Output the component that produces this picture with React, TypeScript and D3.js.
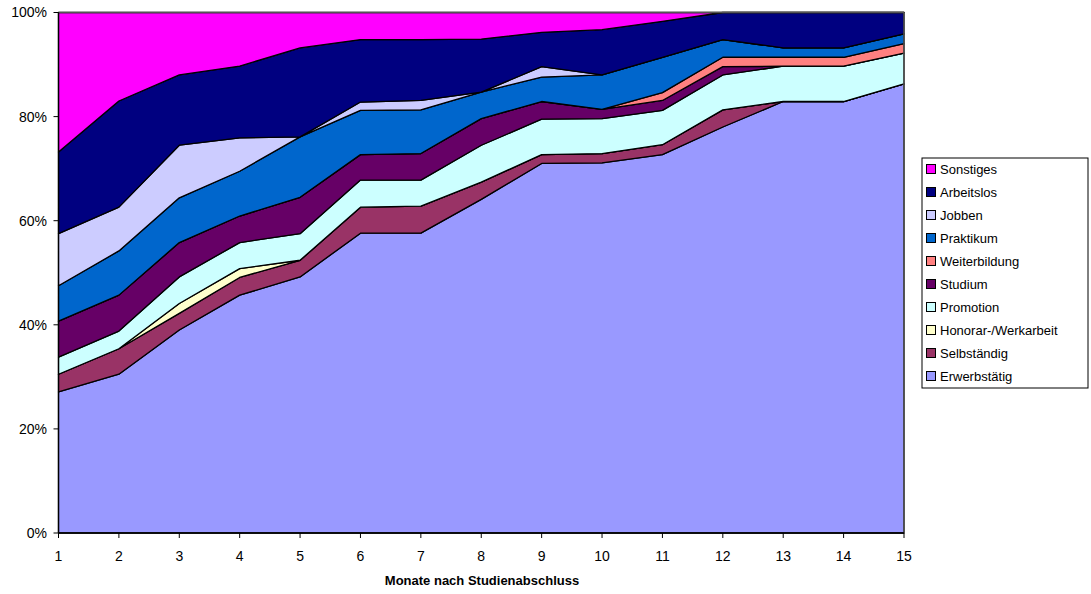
import React from "react";
import * as d3 from "d3";

const months = [1, 2, 3, 4, 5, 6, 7, 8, 9, 10, 11, 12, 13, 14, 15];
const seriesNames = [
  "Erwerbstätig",
  "Selbständig",
  "Honorar-/Werkarbeit",
  "Promotion",
  "Studium",
  "Weiterbildung",
  "Praktikum",
  "Jobben",
  "Arbeitslos",
  "Sonstiges",
];
const seriesColors = [
  "#9999ff",
  "#993366",
  "#ffffcc",
  "#ccffff",
  "#660066",
  "#ff8080",
  "#0066cc",
  "#ccccff",
  "#000080",
  "#ff00ff",
];
const erwerbstaetig = [27.1, 30.5, 39.0, 45.7, 49.2, 57.6, 57.6, 64.1, 71.0, 71.1, 72.7, 78.0, 82.9, 82.9, 86.3];
const selbstaendig = [3.4, 4.9, 3.2, 3.4, 3.2, 5.0, 5.2, 3.3, 1.7, 1.8, 1.9, 3.3, 0, 0, 0];
const honorar = [0, 0, 1.9, 1.7, 0, 0, 0, 0, 0, 0, 0, 0, 0, 0, 0];
const promotion = [3.3, 3.4, 5.1, 5.0, 5.1, 5.2, 5.0, 7.1, 6.8, 6.7, 6.6, 6.7, 6.8, 6.8, 5.9];
const studium = [6.9, 6.9, 6.6, 5.1, 7.0, 4.9, 5.1, 5.1, 3.4, 1.8, 1.9, 1.6, 0, 0, 0];
const weiterbildung = [0, 0, 0, 0, 0, 0, 0, 0, 0, 0, 1.5, 1.8, 1.7, 1.7, 1.8];
const praktikum = [6.8, 8.5, 8.6, 8.6, 11.6, 8.5, 8.4, 5.1, 4.7, 6.6, 6.8, 3.4, 1.8, 1.8, 1.9];
const jobben = [10.0, 8.4, 10.1, 6.4, 0, 1.6, 1.8, 0, 2.0, 0, 0, 0, 0, 0, 0];
const arbeitslos = [15.7, 20.4, 13.5, 13.8, 17.1, 12.0, 11.7, 10.2, 6.6, 8.7, 6.9, 5.2, 6.8, 6.8, 4.1];
const sonstiges = [26.8, 17.0, 12.0, 10.3, 6.8, 5.2, 5.2, 5.1, 3.8, 3.3, 1.7, 0, 0, 0, 0];
const yTicks = [0, 0.2, 0.4, 0.6, 0.8, 1];
const xTitle = "Monate nach Studienabschluss";

const seriesValues = [
  erwerbstaetig,
  selbstaendig,
  honorar,
  promotion,
  studium,
  weiterbildung,
  praktikum,
  jobben,
  arbeitslos,
  sonstiges,
];

export default function App() {
  const W = 1091;
  const H = 594;
  const left = 58.5;
  const right = 904;
  const top = 12.5;
  const bottom = 533;
  const font = "Liberation Sans, Arial, sans-serif";

  const rows = months.map((m, i) => {
    const r: any = { month: m };
    seriesNames.forEach((n, k) => (r[n] = seriesValues[k][i]));
    return r;
  });
  const stack = d3.stack<any>().keys(seriesNames).offset(d3.stackOffsetExpand);
  const layers = stack(rows);

  const x = d3.scaleLinear().domain([1, 15]).range([left, right]);
  const y = d3.scaleLinear().domain([0, 1]).range([bottom, top]);
  const area = d3
    .area<any>()
    .x((d) => x(d.data.month))
    .y0((d) => y(d[0]))
    .y1((d) => y(d[1]));

  const legendX = 922;
  const legendY = 158;
  const legendH = 230;
  const step = 23;
  const legendItems = seriesNames.map((n, i) => ({ n, c: seriesColors[i] })).reverse();

  return (
    <svg width={W} height={H} style={{ position: "absolute", left: 0, top: 0 }}>
      <rect x={0} y={0} width={W} height={H} fill="#fff" />
      {layers.map((layer, i) => (
        <path
          key={i}
          d={area(layer as any) || ""}
          fill={seriesColors[i]}
          stroke="#000"
          strokeWidth={1.3}
          strokeLinejoin="round"
        />
      ))}
      <line x1={left} x2={right} y1={top} y2={top} stroke="#555" strokeWidth={1.5} />
      <line x1={right} x2={right} y1={top} y2={bottom} stroke="#555" strokeWidth={1.5} />
      <line x1={left} x2={left} y1={top} y2={bottom} stroke="#000" strokeWidth={1.3} />
      <line x1={left} x2={right} y1={bottom} y2={bottom} stroke="#000" strokeWidth={1.3} />
      {yTicks.map((t) => (
        <g key={t}>
          <line x1={left - 5} x2={left} y1={y(t)} y2={y(t)} stroke="#000" />
          <text
            x={47}
            y={y(t)}
            dy="0.35em"
            textAnchor="end"
            fontFamily={font}
            fontSize={14}
            fill="#000"
          >
            {d3.format(".0%")(t)}
          </text>
        </g>
      ))}
      {months.map((m) => (
        <g key={m}>
          <line x1={x(m)} x2={x(m)} y1={bottom} y2={bottom + 5} stroke="#000" />
          <text
            x={x(m)}
            y={556}
            dy="0.35em"
            textAnchor="middle"
            fontFamily={font}
            fontSize={14}
            fill="#000"
          >
            {m}
          </text>
        </g>
      ))}
      <text
        x={482}
        y={585}
        textAnchor="middle"
        fontFamily={font}
        fontSize={13}
        fontWeight="bold"
        fill="#000"
      >
        {xTitle}
      </text>
      <rect
        x={legendX}
        y={legendY}
        width={1088 - legendX}
        height={legendH}
        fill="#fff"
        stroke="#000"
        strokeWidth={1}
      />
      {legendItems.map((it, i) => (
        <g key={it.n} transform={`translate(${legendX + 4}, ${legendY + 11 + i * step})`}>
          <rect x={0.5} y={-4.5} width={9} height={9} fill={it.c} stroke="#000" strokeWidth={1} />
          <text x={14} y={0} dy="0.35em" fontFamily={font} fontSize={13} fill="#000">
            {it.n}
          </text>
        </g>
      ))}
    </svg>
  );
}
